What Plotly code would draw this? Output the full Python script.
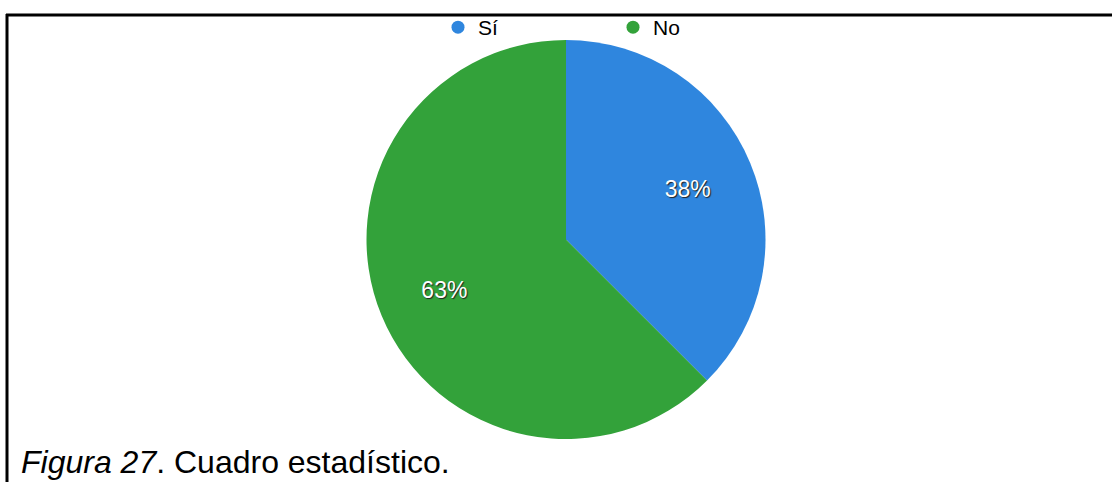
import plotly.graph_objects as go

categories = ["Sí", "No"]
values = [3, 5]
colors = ["#2f86de", "#33a23a"]
caption = "<i>Figura 27</i>. Cuadro estadístico."

W, H = 1112, 482
dom = dict(x=[366 / W, 766 / W], y=[1 - 439 / H, 1 - 40 / H])

fig = go.Figure()
fig.add_trace(go.Pie(
    labels=categories, values=values, sort=False, direction="clockwise", rotation=0,
    marker=dict(colors=colors, line=dict(width=0)),
    textinfo="none", domain=dom, showlegend=False, hoverinfo="label+percent",
))
# transparent ring carrying the percentage labels (places them at ~2/3 radius)
fig.add_trace(go.Pie(
    labels=categories, values=values, sort=False, direction="clockwise", rotation=0,
    hole=0.32, marker=dict(colors=["rgba(0,0,0,0)"] * len(values), line=dict(width=0)),
    texttemplate="%{percent:.0%}", textposition="inside", insidetextorientation="horizontal",
    textfont=dict(family="Liberation Sans, Arial", size=23, color="white", shadow="1px 1px 1px #222"),
    domain=dom, showlegend=False, hoverinfo="skip",
))
for c, col in zip(categories, colors):
    fig.add_trace(go.Scatter(x=[None], y=[None], mode="markers", name=c,
                             marker=dict(symbol="circle", size=13, color=col)))

fig.add_annotation(text=caption, xref="paper", yref="paper", x=19 / W, y=1 - 462 / H,
                   xanchor="left", yanchor="middle", showarrow=False,
                   font=dict(family="Liberation Sans, Arial", size=32, color="black"))

fig.update_layout(
    width=W, height=H, margin=dict(l=0, r=0, t=0, b=0),
    paper_bgcolor="white", plot_bgcolor="white",
    xaxis=dict(visible=False), yaxis=dict(visible=False),
    legend=dict(orientation="h", x=0.5 + 57 / W, xanchor="center", y=1 - 7 / H, yanchor="top",
                font=dict(family="Liberation Sans, Arial", size=21, color="black"),
                entrywidth=130, itemwidth=30, bgcolor="rgba(0,0,0,0)"),
    shapes=[
        dict(type="line", xref="paper", yref="paper", x0=6 / W, x1=1, y0=1 - 15 / H, y1=1 - 15 / H,
             line=dict(color="black", width=3)),
        dict(type="line", xref="paper", yref="paper", x0=7 / W, x1=7 / W, y0=0, y1=1 - 14 / H,
             line=dict(color="black", width=3)),
    ],
)
fig.write_html("out.html")
